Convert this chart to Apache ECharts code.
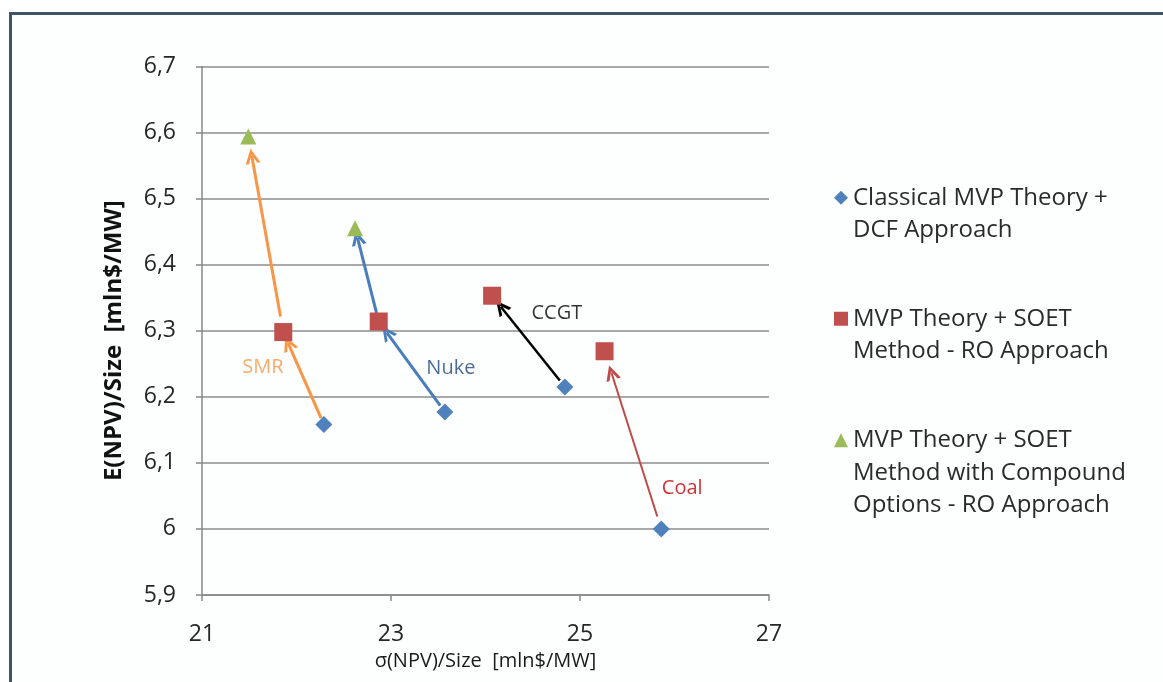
<!DOCTYPE html>
<html><head><meta charset="utf-8">
<script src="https://cdn.jsdelivr.net/npm/echarts@6/dist/echarts.min.js"></script>
<style>html,body{margin:0;padding:0;background:#fff}#c{width:1163px;height:682px}</style>
</head><body><div id="c"></div>
<script>
// ---- data ----
const techs = ['SMR', 'Nuke', 'CCGT', 'Coal'];
const dcfX = [22.29, 23.57, 24.84, 25.86];
const dcfY = [6.158, 6.177, 6.215, 6.0];
const roX = [21.86, 22.87, 24.07, 25.26];
const roY = [6.298, 6.314, 6.353, 6.269];
const compTechs = ['SMR', 'Nuke'];
const compX = [21.49, 22.62];
const compY = [6.594, 6.455];
const xTicks = [21, 23, 25, 27];
const yTicks = [5.9, 6.0, 6.1, 6.2, 6.3, 6.4, 6.5, 6.6, 6.7];
const seriesNames = [
  'Classical MVP Theory + DCF Approach',
  'MVP Theory + SOET Method - RO Approach',
  'MVP Theory + SOET Method with Compound Options - RO Approach'
];
const legendLines = [
  ['Classical MVP Theory +', 'DCF Approach'],
  ['MVP Theory + SOET', 'Method - RO Approach'],
  ['MVP Theory + SOET', 'Method with Compound', 'Options - RO Approach']
];
const xName = 'σ(NPV)/Size  [mln$/MW]';
const yName = 'E(NPV)/Size  [mln$/MW]';

// ---- styles ----
const FONT = '"Open Sans", "Noto Sans", sans-serif';
const arrowColor = { SMR: '#F79646', Nuke: '#4A7EBB', CCGT: '#000000', Coal: '#BE4B48' };
const arrowWidth = { SMR: 3, Nuke: 3, CCGT: 2.5, Coal: 2 };
const labelColor = { SMR: '#F79646', Nuke: '#1F497D', CCGT: '#000000', Coal: '#C00000' };
const labelOffset = { SMR: [-61, -57], Nuke: [6, -44], CCGT: [-8, -74], Coal: [21, -41] };
const ARROW = 'path://M0,12 L6,0 L12,12 L9.4,12 L6,5 L2.6,12 Z';

function seg(x0, y0, x1, y1, a, b) {
  return [[x0 + (x1 - x0) * a, y0 + (y1 - y0) * a], [x0 + (x1 - x0) * b, y0 + (y1 - y0) * b]];
}
const arrows = [];
techs.forEach((t, i) => {
  arrows.push({ coords: seg(dcfX[i], dcfY[i], roX[i], roY[i], 0.07, 0.88),
    lineStyle: { color: arrowColor[t], width: arrowWidth[t], opacity: 1 } });
});
compTechs.forEach((t, j) => {
  const i = techs.indexOf(t);
  arrows.push({ coords: seg(roX[i], roY[i], compX[j], compY[j], 0.08, 0.9),
    lineStyle: { color: arrowColor[t], width: arrowWidth[t], opacity: 1 } });
});

const fmt = v => String(+(+v).toFixed(1)).replace('.', ',');

const chart = echarts.init(document.getElementById('c'), null, { renderer: 'canvas' });
const legendTops = [149, 270, 359];
const legendIcons = ['diamond', 'rect', 'triangle'];
chart.setOption({
  backgroundColor: '#ffffff',
  animation: false,
  graphic: [{
    type: 'rect', left: 9, top: 12, z: -10, silent: true,
    shape: { width: 1180, height: 700 },
    style: { fill: '#fdfefe', stroke: '#3E5566', lineWidth: 3 }
  }],
  grid: { left: 202, right: 394, top: 66.5, bottom: 87, containLabel: false },
  xAxis: {
    type: 'value', min: 21, max: 27, interval: 2,
    name: xName, nameLocation: 'middle', nameGap: 56,
    nameTextStyle: { fontFamily: FONT, fontSize: 20, color: '#1a1a1a' },
    axisLine: { show: true, lineStyle: { color: '#888888', width: 1.5 } },
    axisTick: { show: true, length: 6, lineStyle: { color: '#888888', width: 1.5 } },
    axisLabel: { fontFamily: FONT, fontSize: 23, color: '#262626', margin: 28,
      formatter: v => xTicks.includes(v) ? fmt(v) : '' },
    splitLine: { show: false }
  },
  yAxis: {
    type: 'value', min: 5.9, max: 6.7, interval: 0.1,
    name: yName, nameLocation: 'middle', nameGap: 76, nameRotate: 90,
    nameTextStyle: { fontFamily: FONT, fontSize: 24, fontWeight: 'bold', color: '#111111',
      padding: [0, 20, 0, 0] },
    axisLine: { show: true, lineStyle: { color: '#888888', width: 1.5 } },
    axisTick: { show: true, length: 6, lineStyle: { color: '#888888', width: 1.5 } },
    axisLabel: { fontFamily: FONT, fontSize: 23, color: '#262626', margin: 26,
      formatter: v => fmt(v) },
    splitLine: { show: true, lineStyle: { color: '#8c8c8c', width: 1.5 } }
  },
  legend: legendLines.map((lines, i) => ({
    data: [{ name: seriesNames[i], icon: legendIcons[i] }],
    orient: 'vertical', left: 834, top: legendTops[i], padding: 0,
    itemWidth: 14, itemHeight: 14, selectedMode: false,
    formatter: () => '\n'.repeat(lines.length - 1) + lines.join('\n'),
    textStyle: { fontFamily: FONT, fontSize: 24, lineHeight: 32.5, color: '#2b2b2b' }
  })),
  series: [
    {
      type: 'lines', coordinateSystem: 'cartesian2d', z: 2,
      symbol: ['none', ARROW], symbolSize: 15,
      lineStyle: { opacity: 1 },
      data: arrows, silent: true
    },
    {
      name: seriesNames[0], type: 'scatter', z: 4, symbol: 'diamond', symbolSize: 17,
      itemStyle: { color: '#4F81BD', opacity: 1 },
      data: techs.map((t, i) => [dcfX[i], dcfY[i]])
    },
    {
      name: seriesNames[1], type: 'scatter', z: 4, symbol: 'rect', symbolSize: 18,
      itemStyle: { color: '#C0504D', opacity: 1 },
      data: techs.map((t, i) => [roX[i], roY[i]])
    },
    {
      name: seriesNames[2], type: 'scatter', z: 4, symbol: 'triangle', symbolSize: 16,
      itemStyle: { color: '#9BBB59', opacity: 1 },
      data: compTechs.map((t, j) => [compX[j], compY[j]])
    },
    {
      type: 'scatter', z: 5, symbolSize: 0, silent: true,
      data: techs.map((t, i) => ({
        value: [dcfX[i], dcfY[i]],
        label: { show: true, position: 'inside', formatter: t, offset: labelOffset[t],
          color: labelColor[t], fontFamily: FONT, fontSize: 20 }
      }))
    }
  ]
});
</script></body></html>
